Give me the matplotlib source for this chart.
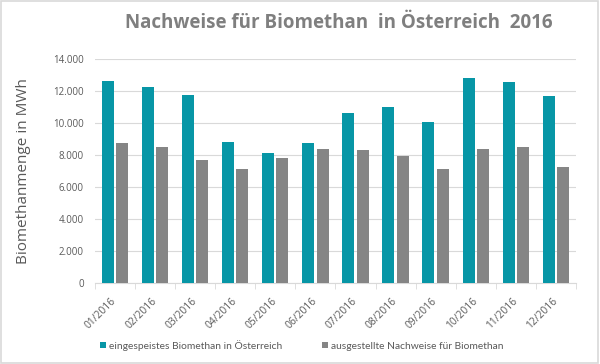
import matplotlib
matplotlib.use("Agg")
import matplotlib.pyplot as plt
import numpy as np
from matplotlib.patches import Rectangle

months = ["01/2016", "02/2016", "03/2016", "04/2016", "05/2016", "06/2016",
          "07/2016", "08/2016", "09/2016", "10/2016", "11/2016", "12/2016"]
eingespeist = [12620, 12230, 11750, 8830, 8100, 8730, 10650, 11000, 10100, 12850, 12560, 11690]
nachweise = [8770, 8500, 7690, 7100, 7830, 8400, 8290, 7960, 7120, 8350, 8500, 7270]
series_names = ["eingespeistes Biomethan in Österreich", "ausgestellte Nachweise für Biomethan"]
yticks = [0, 2000, 4000, 6000, 8000, 10000, 12000, 14000]

teal = "#0796a6"
gray = "#858585"
txt = "#595959"

fig = plt.figure(figsize=(6.0, 3.64), dpi=100)
fig.patch.set_facecolor("white")
fig.add_artist(Rectangle((0.002, 0.004), 0.995, 0.992, transform=fig.transFigure,
                         fill=False, edgecolor="#d9d9d9", linewidth=1.2))

ax = fig.add_axes([0.158, 0.2225, 0.802, 0.615])
x = np.arange(len(months))
w = 0.3
ax.bar(x - 0.18, eingespeist, width=w, color=teal, label=series_names[0], zorder=3)
ax.bar(x + 0.18, nachweise, width=w, color=gray, label=series_names[1], zorder=3)

ax.set_xlim(-0.5, len(months) - 0.5)
ax.set_ylim(0, 14000)
ax.set_yticks(yticks)
ax.set_yticklabels([f"{v:,}".replace(",", ".") for v in yticks], fontsize=7,
                   color=txt, family="Open Sans")
ax.yaxis.grid(True, color="#d9d9d9", linewidth=0.8, zorder=0)
ax.tick_params(axis="y", length=0, pad=8)

ax.set_xticks(x)
ax.set_xticklabels(months, rotation=45, ha="right", va="center", rotation_mode="anchor",
                   fontsize=7.4, color=txt, family="Open Sans")
ax.set_xticks(np.arange(-0.5, len(months), 1), minor=True)
ax.tick_params(axis="x", which="major", length=0, pad=12)
ax.tick_params(axis="x", which="minor", length=4, color="#d9d9d9")

for s in ["top", "right", "left"]:
    ax.spines[s].set_visible(False)
ax.spines["bottom"].set_color("#d9d9d9")

ax.set_ylabel("Biomethanmenge in MWh", fontsize=11, color=txt, family="Open Sans", labelpad=16)

fig.text(0.565, 0.937, "Nachweise für Biomethan  in Österreich  2016", ha="center", va="center",
         fontsize=13.5, fontweight="bold", color="#7f7f7f", family="Open Sans")

leg = fig.legend(loc="center", bbox_to_anchor=(0.503, 0.052), ncol=2, frameon=False,
                 handlelength=0.6, handleheight=0.6, handletextpad=0.35,
                 columnspacing=3.8, prop={"family": "Lato", "size": 7.4})
for t in leg.get_texts():
    t.set_color(txt)

fig.savefig("out.png", dpi=100)
